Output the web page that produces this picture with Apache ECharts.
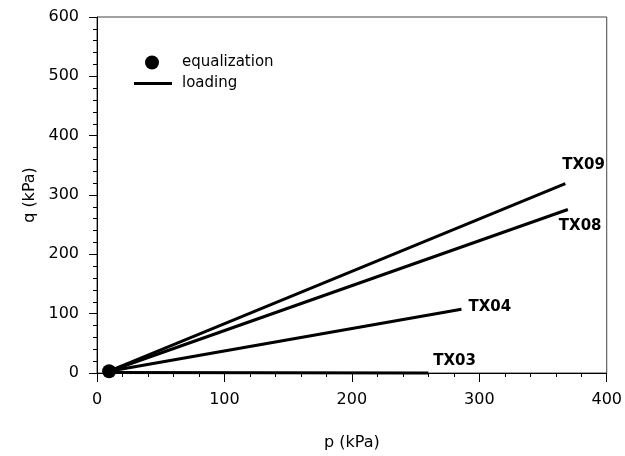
<!DOCTYPE html>
<html>
<head>
<meta charset="utf-8">
<script src="https://cdn.jsdelivr.net/npm/echarts@6/dist/echarts.min.js"></script>
<style>html,body{margin:0;padding:0;background:#fff}#c{width:625px;height:456px}</style>
</head>
<body>
<div id="c"></div>
<script>
// Data
const xTicks = [0, 100, 200, 300, 400];
const yTicks = [0, 100, 200, 300, 400, 500, 600];
const equalizationP = [9.5];
const equalizationQ = [3];
const tx09P = [9.5, 367.5];
const tx09Q = [3, 319];
const tx08P = [9.5, 369.5];
const tx08Q = [3, 275.5];
const tx04P = [9.5, 286];
const tx04Q = [3, 107.5];
const tx03P = [9.5, 260];
const tx03Q = [1, 0];
const seriesNames = ['TX09', 'TX08', 'TX04', 'TX03'];

const zip = (a, b) => a.map((v, i) => [v, b[i]]);
const lineSets = [
  [tx09P, tx09Q, [-11, -19]],
  [tx08P, tx08Q, [-17, 17]],
  [tx04P, tx04Q, [-1, -2]],
  [tx03P, tx03Q, [-3, -12]]
];
const FONT = 'DejaVu Sans';

const lineSeries = lineSets.map((s, i) => ({
  type: 'line',
  name: 'loading',
  data: zip(s[0], s[1]),
  symbol: 'none',
  clip: false,
  color: '#000',
  lineStyle: { color: '#000', width: 3 },
  endLabel: {
    show: true,
    formatter: seriesNames[i],
    offset: s[2],
    color: '#000',
    fontFamily: FONT,
    fontWeight: 'bold',
    fontSize: 15
  },
  z: 3
}));

const chart = echarts.init(document.getElementById('c'), null, { renderer: 'canvas' });
chart.setOption({
  animation: false,
  backgroundColor: '#fff',
  grid: { left: 97, right: 18, top: 17, bottom: 82, show: true, borderColor: '#444', borderWidth: 1 },
  legend: [
    {
      data: [{ name: 'equalization', icon: 'circle' }],
      left: 140, top: 50,
      itemWidth: 14, itemHeight: 14,
      textStyle: { fontFamily: FONT, fontSize: 15, color: '#000', padding: [0, 0, 0, 18] },
      selectedMode: false
    },
    {
      data: [{ name: 'loading', icon: 'rect' }],
      left: 129, top: 71,
      itemWidth: 38, itemHeight: 3,
      textStyle: { fontFamily: FONT, fontSize: 15, color: '#000', padding: [0, 0, 0, 5] },
      selectedMode: false
    }
  ],
  xAxis: {
    type: 'value',
    min: xTicks[0], max: xTicks[xTicks.length - 1], interval: 100,
    name: 'p (kPa)', nameLocation: 'middle', nameGap: 62,
    nameTextStyle: { fontFamily: FONT, fontSize: 16, color: '#000' },
    axisLine: { lineStyle: { color: '#000', width: 1 } },
    axisTick: { show: true, inside: false, length: 9, lineStyle: { color: '#000' } },
    minorTick: { show: true, splitNumber: 5, length: 4, lineStyle: { color: '#000' } },
    splitLine: { show: false },
    axisLabel: { fontFamily: FONT, fontSize: 16, color: '#000', margin: 19 }
  },
  yAxis: {
    type: 'value',
    min: yTicks[0], max: yTicks[yTicks.length - 1], interval: 100,
    name: 'q (kPa)', nameLocation: 'middle', nameGap: 53, nameRotate: 90,
    nameTextStyle: { fontFamily: FONT, fontSize: 16, color: '#000' },
    axisLine: { lineStyle: { color: '#000', width: 1 } },
    axisTick: { show: true, inside: false, length: 8, lineStyle: { color: '#000' } },
    minorTick: { show: true, splitNumber: 5, length: 4, lineStyle: { color: '#000' } },
    splitLine: { show: false },
    axisLabel: { fontFamily: FONT, fontSize: 16, color: '#000', margin: 18 }
  },
  series: [
    {
      type: 'scatter',
      name: 'equalization',
      data: zip(equalizationP, equalizationQ),
      symbol: 'circle',
      symbolSize: 14,
      clip: false,
      itemStyle: { color: '#000', opacity: 1 },
      z: 5
    }
  ].concat(lineSeries)
});
</script>
</body>
</html>
